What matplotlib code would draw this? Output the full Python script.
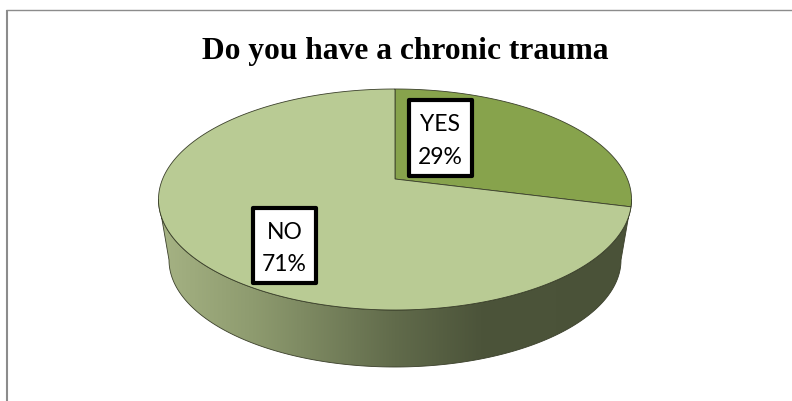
import numpy as np
import matplotlib
matplotlib.use("Agg")
import matplotlib.pyplot as plt
from matplotlib.colors import LinearSegmentedColormap
from matplotlib.patches import Polygon, Rectangle
from matplotlib.path import Path
from matplotlib.transforms import Affine2D, Transform

# ---- data ----
categories = ["YES", "NO"]
percentages = [29, 71]
title = "Do you have a chronic trauma"
slice_colors = ["#87a34c", "#b9cb94"]
W, H = 792, 401


class Tilt(Transform):
    """Perspective view of the unit pie disc, in picture pixels."""
    input_dims = output_dims = 2
    is_separable = False
    has_inverse = False
    cx, cy, a, b, c = 395.0, 179.0, 0.1855, 106.7, 232.4

    def transform_non_affine(self, values):
        v = np.asarray(values, float)
        d = 1 + self.a * v[:, 1]
        return np.column_stack([self.cx + self.c * v[:, 0] / d,
                                self.cy - self.b * v[:, 1] / d])

    def transform_path_non_affine(self, path):
        poly = path.transformed(Affine2D().scale(2000)).to_polygons(closed_only=True)[0] / 2000
        return Path(self.transform_non_affine(poly))


fig = plt.figure(figsize=(W / 100, H / 100), dpi=100, facecolor="white")
ax = fig.add_axes([0, 0, 1, 1])

wedges, _ = ax.pie(percentages, colors=slice_colors, startangle=90, counterclock=False,
                   wedgeprops=dict(edgecolor="#3a3f2a", linewidth=0.6, zorder=3))
ax.set_aspect("auto")
ax.set_xlim(0, W)
ax.set_ylim(H, 0)
ax.axis("off")
tilt = Tilt()
for w in wedges:
    w.set_transform(tilt + ax.transData)

# ---- side wall of the pie with its horizontal shading ----
t = np.linspace(0, np.pi, 200)
top_y0, top_rx, top_ry = 199.5, 236.5, 110.5
bot_y0, bot_rx, bot_ry = 260.0, 226.0, 107.0
top_arc = np.column_stack([395 + top_rx * np.cos(t), top_y0 + top_ry * np.sin(t)])
bot_arc = np.column_stack([395 + bot_rx * np.cos(t[::-1]), bot_y0 + bot_ry * np.sin(t[::-1])])
wall = np.vstack([top_arc, bot_arc])
wall_patch = Polygon(wall, closed=True, facecolor="none", edgecolor="#3a3f2a",
                     linewidth=0.6, zorder=2, transform=ax.transData)
stops = [(0.0, "#a6b384"), (0.2, "#8e9b6f"), (0.5, "#616b4b"), (0.68, "#4c543a"), (1.0, "#4a5238")]
cmap = LinearSegmentedColormap.from_list("side", stops)
img = ax.imshow(np.linspace(0, 1, 256)[None, :], cmap=cmap, aspect="auto",
                extent=[158, 632, 370, 195], zorder=1)
img.set_clip_path(Polygon(wall, closed=True, transform=ax.transData))
ax.add_patch(wall_patch)
ax.set_xlim(0, W)
ax.set_ylim(H, 0)

# ---- data labels ----
boxes = {"YES": (409, 100, 63, 76), "NO": (253, 208, 63, 75)}
for name, pct in zip(categories, percentages):
    x, y, bw, bh = boxes[name]
    ax.add_patch(Rectangle((x, y), bw, bh, facecolor="white", edgecolor="black",
                           linewidth=3.0, joinstyle="round", zorder=5))
    ax.text(x + bw / 2, y + bh / 2 + 3, f"{name}\n{pct}%", ha="center", va="center",
            family="Lato", fontsize=16.5, linespacing=1.65, color="black", zorder=6)

# ---- title and frame ----
ax.text(405, 58.5, title, ha="center", va="baseline", family="Liberation Serif",
        weight="bold", fontsize=22.7, color="black", zorder=6)
ax.plot([7, 7], [H, 9.5], color="#8c8c8c", lw=1.5, solid_capstyle="butt", zorder=6)
ax.plot([6, W], [9.5, 9.5], color="#8c8c8c", lw=1.0, solid_capstyle="butt", zorder=6)

fig.savefig("out.png", dpi=100, facecolor="white")
